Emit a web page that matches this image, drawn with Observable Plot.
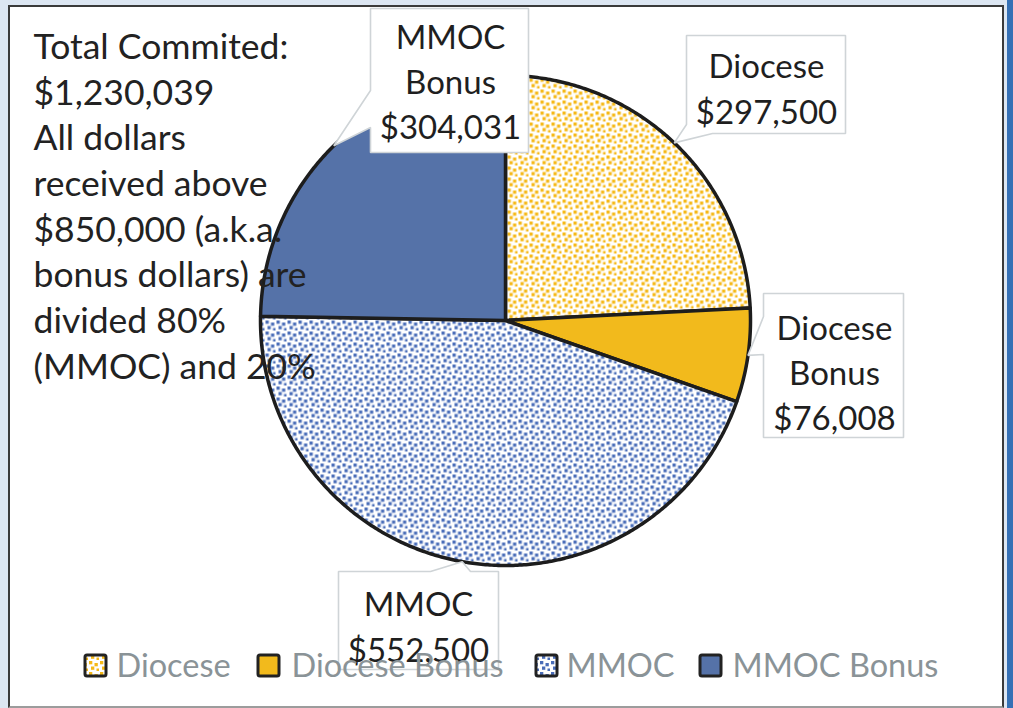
<!DOCTYPE html>
<html>
<head>
<meta charset="utf-8">
<script src="https://cdn.jsdelivr.net/npm/d3@7"></script>
<script src="https://cdn.jsdelivr.net/npm/@observablehq/plot@0.6"></script>
<style>
  html, body { margin: 0; padding: 0; width: 1013px; height: 708px; overflow: hidden; background: #DCE6F2; }
  #frame { position: absolute; left: 8px; top: 5px; width: 992px; height: 699px; background: #ffffff;
           border: 2px solid #3a3a3a; border-bottom: 2px solid #9c9c9c; }
  #stripe { position: absolute; left: 1007px; top: 0; width: 6px; height: 708px; background: #3570B5; }
  #chart { position: absolute; left: 0; top: 0; }
</style>
</head>
<body>
<div id="frame"></div>
<div id="stripe"></div>
<div id="chart"></div>
<script>
// ---- data ----
const categories = ["Diocese", "Diocese Bonus", "MMOC", "MMOC Bonus"];
const amounts = [297500, 76008, 552500, 304031];
const labelNames = ["Diocese", "Diocese\nBonus", "MMOC", "MMOC\nBonus"];
const noteLines = [
  "Total Commited:",
  "$1,230,039",
  "All dollars",
  "received above",
  "$850,000 (a.k.a.",
  "bonus dollars) are",
  "divided 80%",
  "(MMOC) and 20%"
];

// ---- layout / style ----
const W = 1013, H = 708;
const cx = 505, cy = 320, R = 245;
const sliceFills = ["url(#patYellow)", "#F2BA1C", "url(#patBlue)", "#5572A8"];
const labelCenters = [[766, 86], [834, 370], [418, 624], [450, 79]];
const legendSwatchX = [85, 258, 536, 700];
const legendTextX = [116, 291, 566, 732];
const FONT = "Lato";

const fmt = d3.format("$,");
const arcs = d3.pie().sort(null).value(d => d)(amounts);

// slice outlines (from pie angles)
const slices = arcs.map((a, i) => {
  const pts = [{x: cx, y: cy}];
  const n = Math.max(2, Math.ceil((a.endAngle - a.startAngle) / (Math.PI / 360)));
  for (let k = 0; k <= n; k++) {
    const t = a.startAngle + (a.endAngle - a.startAngle) * k / n;
    pts.push({x: cx + R * Math.sin(t), y: cy - R * Math.cos(t)});
  }
  return pts;
});

// callout tips at mid-angle on the rim
const tips = arcs.map(a => {
  const m = (a.startAngle + a.endAngle) / 2;
  return [cx + R * Math.sin(m), cy - R * Math.cos(m)];
});
const calloutShapes = [
  [[686, 35], [845, 35], [845, 133], [712, 133], tips[0], [686, 124]],
  [[763, 293], [903, 293], [903, 437], [763, 437], [763, 354], tips[1], [763, 316]],
  [[338, 571], [430, 571], tips[2], [470, 571], [498, 571], [498, 669], [338, 669]],
  [[370, 8], [528, 8], [528, 152], [370, 152], [370, 127], tips[3], [370, 90]]
].map(p => p.map(([x, y]) => ({x, y})));

const labels = categories.map((c, i) => ({
  text: labelNames[i] + "\n" + fmt(amounts[i]),
  x: labelCenters[i][0], y: labelCenters[i][1]
}));
const notes = noteLines.map((t, i) => ({text: t, x: 33, y: 47 + i * 45.7}));
const legend = categories.map((c, i) => ({name: c, fill: sliceFills[i], sx: legendSwatchX[i], tx: legendTextX[i]}));

const marks = [];
slices.forEach((pts, i) => {
  marks.push(Plot.line(pts, {x: "x", y: "y", curve: "linear-closed", fill: sliceFills[i],
    stroke: "#1d1d1d", strokeWidth: 3.5, strokeLinejoin: "round"}));
});
marks.push(Plot.text(notes, {x: "x", y: "y", text: "text", textAnchor: "start", lineAnchor: "middle",
  fontSize: 35.5, fontFamily: FONT, fill: "#222222"}));
calloutShapes.forEach(pts => {
  marks.push(Plot.line(pts, {x: "x", y: "y", curve: "linear-closed", fill: "white",
    stroke: "#CFD4D7", strokeWidth: 1.6, strokeLinejoin: "miter"}));
});
marks.push(Plot.text(labels, {x: "x", y: "y", text: "text", textAnchor: "middle", lineAnchor: "middle",
  lineHeight: 1.37, fontSize: 33, fontFamily: FONT, fill: "#1f1f1f"}));
marks.push(Plot.rect(legend, {x1: "sx", x2: d => d.sx + 21, y1: 655, y2: 676, fill: "fill",
  stroke: "#222222", strokeWidth: 3, rx: 2}));
marks.push(Plot.text(legend, {x: "tx", y: 666, text: "name", textAnchor: "start", lineAnchor: "middle",
  fontSize: 32.5, fontFamily: FONT, fill: "#8A9397"}));

const svg = Plot.plot({
  width: W, height: H,
  margin: 0,
  x: {domain: [0, W], range: [0, W], axis: null},
  y: {domain: [0, H], range: [0, H], axis: null},
  color: {type: "identity"},
  style: {background: "transparent", fontFamily: FONT},
  marks
});

// fill patterns (confetti-like dots)
const defs = d3.select(svg).insert("defs", ":first-child");
function addPattern(id, col) {
  const p = defs.append("pattern").attr("id", id).attr("patternUnits", "userSpaceOnUse")
    .attr("width", 11).attr("height", 11);
  p.append("rect").attr("width", 11).attr("height", 11).attr("fill", "white");
  [[1, 1], [6.5, 3], [3, 6.5], [8.5, 8.5]].forEach(([x, y]) =>
    p.append("rect").attr("x", x).attr("y", y).attr("width", 3.3).attr("height", 3.3).attr("fill", col));
}
addPattern("patYellow", "#F5B817");
addPattern("patBlue", "#4A6DB8");

document.getElementById("chart").appendChild(svg);
</script>
</body>
</html>
